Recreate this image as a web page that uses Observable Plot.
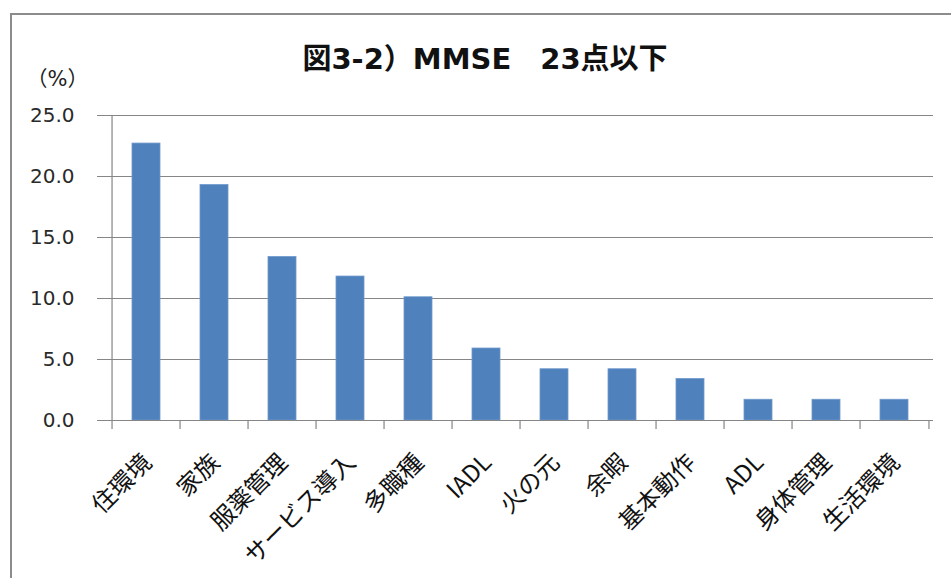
<!DOCTYPE html>
<html lang="ja">
<head>
<meta charset="utf-8">
<script src="https://cdn.jsdelivr.net/npm/d3@7"></script>
<script src="https://cdn.jsdelivr.net/npm/@observablehq/plot@0.6"></script>
<style>
  html, body { margin: 0; padding: 0; background: #fff; }
  #wrap { position: relative; width: 951px; height: 578px; overflow: hidden; }
  #border {
    position: absolute; left: 10px; top: 13px; right: -4px; bottom: -4px;
    border-top: 2px solid #8c8c8c; border-left: 2px solid #8c8c8c;
    pointer-events: none;
  }
  svg { font-family: "DejaVu Sans", "Noto Sans CJK JP", sans-serif; }
  .cat-axis text { font-family: "Noto Sans CJK JP", sans-serif; }
</style>
</head>
<body>
<div id="wrap"><div id="border"></div></div>
<script>
// 図3-2 MMSE 23点以下：課題領域ごとの該当割合（%）
const title = "図3-2）MMSE　23点以下";
const unitLabel = "（%）";
const categories = ["住環境", "家族", "服薬管理", "サービス導入", "多職種", "IADL", "火の元", "余暇", "基本動作", "ADL", "身体管理", "生活環境"];
const values = [22.7, 19.3, 13.4, 11.8, 10.1, 5.9, 4.2, 4.2, 3.4, 1.7, 1.7, 1.7];
const yTicks = [0, 5, 10, 15, 20, 25];

const data = categories.map((c, i) => ({category: c, value: values[i]}));

const W = 951, H = 578;
const mL = 106, mR = 18, mT = 115, mB = 158;
const step = (W - mL - mR) / categories.length;
const axisGray = "#868686";

const chart = Plot.plot({
  width: W,
  height: H,
  marginLeft: mL,
  marginRight: mR,
  marginTop: mT,
  marginBottom: mB,
  style: {background: "transparent", overflow: "visible"},
  x: {domain: categories, paddingInner: 0.59, paddingOuter: 0.295, label: null},
  y: {domain: [0, 25], ticks: yTicks, label: null},
  marks: [
    Plot.gridY(yTicks.filter(t => t > 0), {stroke: axisGray, strokeOpacity: 1, strokeWidth: 1.2}),
    Plot.barY(data, {x: "category", y: "value", fill: "#4f81bd", stroke: "#6f98cc", strokeWidth: 0.8}),
    // category axis line and boundary tick marks
    Plot.ruleY([0], {stroke: axisGray, strokeWidth: 1.2}),
    Plot.ruleX(categories, {x: d => d, y1: 0, y2: 0, insetBottom: -9, dx: -step / 2, stroke: axisGray, strokeWidth: 1.2}),
    Plot.ruleX(categories.slice(-1), {x: d => d, y1: 0, y2: 0, insetBottom: -9, dx: step / 2, stroke: axisGray, strokeWidth: 1.2}),
    // value axis line
    Plot.ruleX([categories[0]], {x: d => d, y1: 0, y2: 25, dx: -step / 2, stroke: axisGray, strokeWidth: 1.2}),
    Plot.axisY({ticks: yTicks, tickFormat: d => d.toFixed(1), tickSize: 9, tickPadding: 23, stroke: axisGray, strokeOpacity: 1, fontSize: 20, fill: "#2a2a2a", label: null}),
    Plot.axisX({className: "cat-axis", tickSize: 0, tickPadding: 38, dx: 1, tickRotate: -45, fontSize: 24, fill: "#111", label: null}),
    Plot.text([title], {frameAnchor: "top", dx: -35, dy: -67, fontSize: 29, fontWeight: "bold", fill: "#111"}),
    Plot.text([unitLabel], {frameAnchor: "top-left", textAnchor: "middle", dx: -49, dy: -44, fontSize: 21, fill: "#222"})
  ]
});

document.getElementById("wrap").appendChild(chart);
chart.style.position = "absolute";
chart.style.left = "0";
chart.style.top = "0";
</script>
</body>
</html>
